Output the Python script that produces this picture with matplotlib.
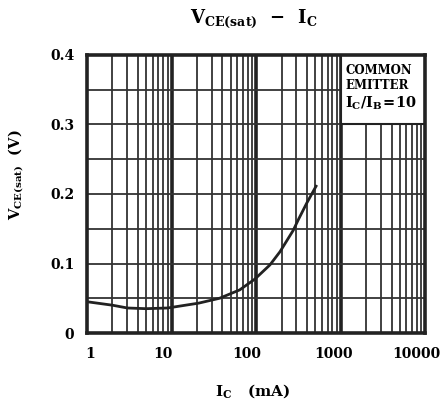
import matplotlib
matplotlib.use("Agg")
import matplotlib.pyplot as plt
import matplotlib.transforms as mtransforms
from matplotlib.patches import Rectangle

# collector current (mA) and saturation voltage (V)
ic_ma = [1, 2, 3, 5, 9, 21, 37, 64, 97, 146, 192, 276, 316, 398, 522]
vce_sat = [0.045, 0.040, 0.036, 0.035, 0.036, 0.043, 0.050, 0.062,
           0.0777, 0.098, 0.117, 0.148, 0.163, 0.187, 0.213]

x_ticks = [1, 10, 100, 1000, 10000]
x_tick_labels = ["1", "10", "100", "1000", "10000"]
y_ticks = [0, 0.1, 0.2, 0.3, 0.4]
y_tick_labels = ["0", "0.1", "0.2", "0.3", "0.4"]

plt.rcParams["font.family"] = "DejaVu Serif"
plt.rcParams["font.weight"] = "bold"
plt.rcParams["mathtext.fontset"] = "dejavuserif"

fig = plt.figure(figsize=(4.47, 4.07), dpi=100)
ax = fig.add_axes([0.1946, 0.1818, 0.7565, 0.6831])

ax.set_xscale("log")
ax.set_xlim(1, 10000)
ax.set_ylim(0, 0.4)

# grid: thin lines at 2..9 of each decade, thick at decades, every 0.05 V
for dec in [1, 10, 100, 1000]:
    for k in range(2, 10):
        ax.axvline(dec * k, color="#333333", lw=1.3, zorder=1)
for dec in [10, 100, 1000]:
    ax.axvline(dec, color="#222222", lw=2.6, zorder=1)
for i in range(1, 8):
    ax.axhline(i * 0.05, color="#333333", lw=1.3, zorder=1)

ax.plot(ic_ma, vce_sat, color="#222222", lw=2.0, zorder=3,
        solid_joinstyle="round", solid_capstyle="butt")

# note box in upper-right corner
ax.add_patch(Rectangle((1000, 0.3), 9000, 0.1, facecolor="white",
                       edgecolor="#222222", lw=1.5, zorder=4))
ax.text(1130, 0.377, "COMMON", fontsize=8.5, fontweight="bold",
        va="center", ha="left", zorder=5)
ax.text(1130, 0.3555, "EMITTER", fontsize=8.5, fontweight="bold",
        va="center", ha="left", zorder=5)
ax.text(1130, 0.331, r"$\mathbf{I_{C}/I_{B}\!=\!10}$", fontsize=10.5,
        va="center", ha="left", zorder=5)

ax.set_xticks(x_ticks)
ax.set_xticklabels(x_tick_labels, fontsize=10, fontweight="bold")
ax.set_xticks([], minor=True)
ax.set_yticks(y_ticks)
ax.set_yticklabels(y_tick_labels, fontsize=10, fontweight="bold")
ax.tick_params(length=0)
ax.tick_params(axis="y", pad=9)
ax.tick_params(axis="x", pad=10)

# the x labels sit a little left of their grid lines in the original
for lbl, dx in zip(ax.get_xticklabels(), [3, -9, -9, -7, -9]):
    lbl.set_transform(lbl.get_transform() +
                      mtransforms.ScaledTranslation(dx / 100, 0, fig.dpi_scale_trans))

for s in ax.spines.values():
    s.set_linewidth(2.6)
    s.set_color("#222222")
    s.set_zorder(6)

fig.text(0.567, 0.955, r"$\mathbf{V_{CE(sat)}}$  $\mathbf{-}$  $\mathbf{I_{C}}$",
         fontsize=13, ha="center", va="center")
fig.text(0.036, 0.57, r"$\mathbf{V_{CE(sat)}}$  (V)", fontsize=10.5,
         fontweight="bold", rotation=90, ha="center", va="center")
fig.text(0.565, 0.04, r"$\mathbf{I_{C}}$   (mA)", fontsize=11,
         fontweight="bold", ha="center", va="center")

fig.savefig("out.png", dpi=100)
